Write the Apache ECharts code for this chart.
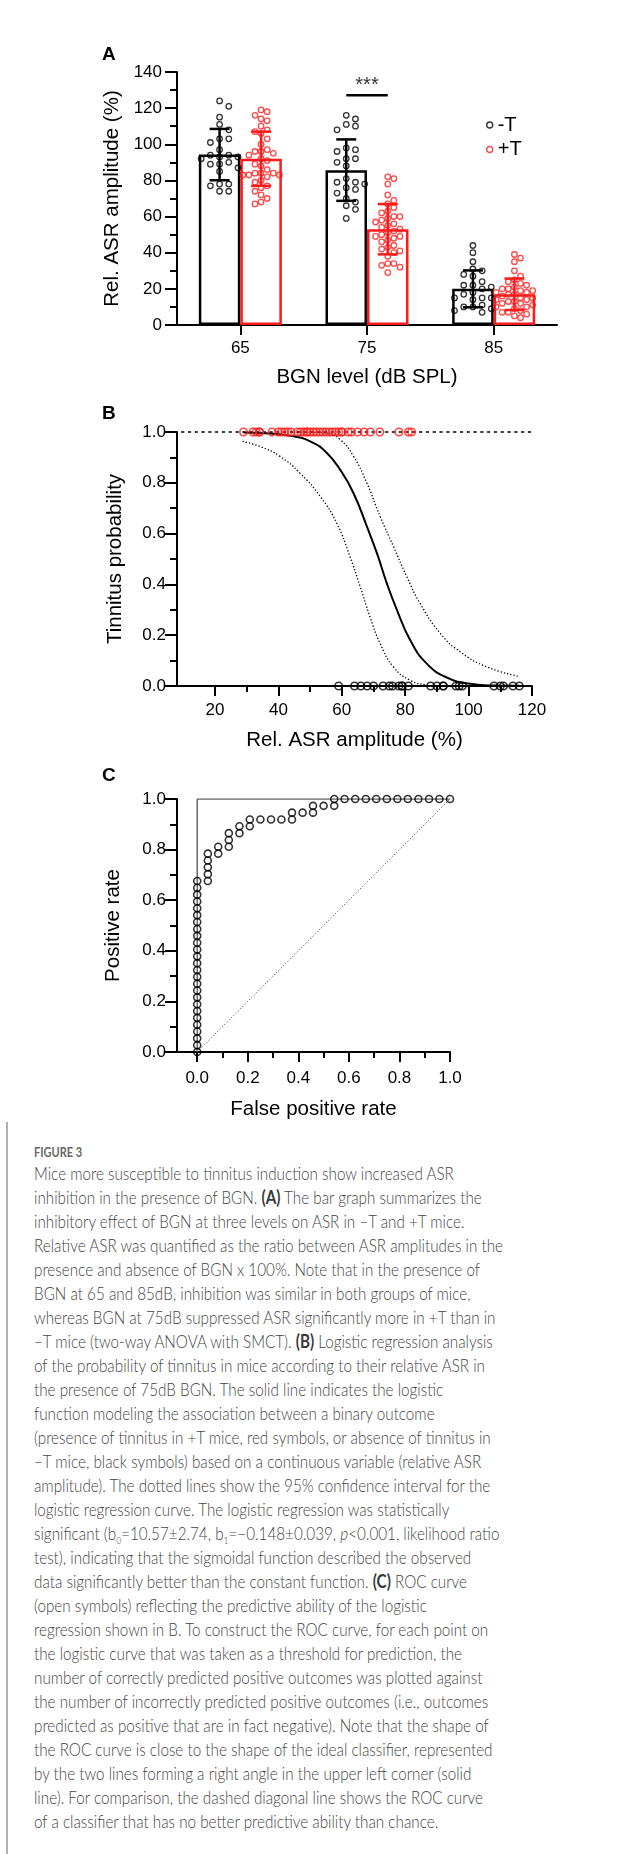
<!DOCTYPE html>
<html>
<head>
<meta charset="utf-8">
<script src="https://cdn.jsdelivr.net/npm/echarts@6/dist/echarts.min.js"></script>
<style>
  html, body { margin: 0; padding: 0; background: #fff; }
  #chart { position: absolute; left: 0; top: 0; width: 640px; height: 1130px; }
  #rule { position: absolute; left: 6px; top: 1122px; width: 1.5px; height: 732px; background: #b0b0b0; }
  #caption { position: absolute; left: 34px; top: 1143px; transform-origin: 0 0;
    font-family: Lato, "Open Sans", sans-serif; font-weight: 300; color: #444; white-space: nowrap; }
  #caption .fig { font-size: 13px; font-weight: 700; color: #666; line-height: 18px; height: 18.3px; }
  #caption .ln { font-size: 18px; line-height: 24px; height: 24px; white-space: nowrap; }
  #caption b { font-weight: 700; color: #3a3a3a; }
  #caption .sb { font-size: 10px; position: relative; top: 4px; line-height: 0; }
</style>
</head>
<body>
<div id="chart"></div>
<div id="rule"></div>
<div id="caption">
  <div class="fig">FIGURE 3</div>
  <div class="ln">Mice more susceptible to tinnitus induction show increased ASR</div>
  <div class="ln">inhibition in the presence of BGN. <b>(A)</b> The bar graph summarizes the</div>
  <div class="ln">inhibitory effect of BGN at three levels on ASR in –T and +T mice.</div>
  <div class="ln" id="refLine">Relative ASR was quantified as the ratio between ASR amplitudes in the</div>
  <div class="ln">presence and absence of BGN x 100%. Note that in the presence of</div>
  <div class="ln">BGN at 65 and 85dB, inhibition was similar in both groups of mice,</div>
  <div class="ln">whereas BGN at 75dB suppressed ASR significantly more in +T than in</div>
  <div class="ln">–T mice (two-way ANOVA with SMCT). <b>(B)</b> Logistic regression analysis</div>
  <div class="ln">of the probability of tinnitus in mice according to their relative ASR in</div>
  <div class="ln">the presence of 75dB BGN. The solid line indicates the logistic</div>
  <div class="ln">function modeling the association between a binary outcome</div>
  <div class="ln">(presence of tinnitus in +T mice, red symbols, or absence of tinnitus in</div>
  <div class="ln">–T mice, black symbols) based on a continuous variable (relative ASR</div>
  <div class="ln">amplitude). The dotted lines show the 95% confidence interval for the</div>
  <div class="ln">logistic regression curve. The logistic regression was statistically</div>
  <div class="ln">significant (b<span class="sb">0</span>=10.57±2.74, b<span class="sb">1</span>=−0.148±0.039, <i>p</i>&lt;0.001, likelihood ratio</div>
  <div class="ln">test), indicating that the sigmoidal function described the observed</div>
  <div class="ln">data significantly better than the constant function. <b>(C)</b> ROC curve</div>
  <div class="ln">(open symbols) reflecting the predictive ability of the logistic</div>
  <div class="ln">regression shown in B. To construct the ROC curve, for each point on</div>
  <div class="ln">the logistic curve that was taken as a threshold for prediction, the</div>
  <div class="ln">number of correctly predicted positive outcomes was plotted against</div>
  <div class="ln">the number of incorrectly predicted positive outcomes (i.e., outcomes</div>
  <div class="ln">predicted as positive that are in fact negative). Note that the shape of</div>
  <div class="ln">the ROC curve is close to the shape of the ideal classifier, represented</div>
  <div class="ln">by the two lines forming a right angle in the upper left corner (solid</div>
  <div class="ln">line). For comparison, the dashed diagonal line shows the ROC curve</div>
  <div class="ln">of a classifier that has no better predictive ability than chance.</div>
</div>
<script>
// ---- data ----
const levels = ['65', '75', '85'];

const meanNoT = [94.3, 85.7, 20];
const meanT = [92, 53, 17];
const sdNoT = [14.2, 17, 10.2];
const sdT = [15, 13.9, 8.7];

const noT65 = [124, 121, 115, 111, 108, 103, 103, 101, 97, 94, 94, 93, 93, 92, 90, 89, 89, 87, 85, 78, 78, 77, 74, 74];
const noT75 = [116, 114, 111, 110, 108, 98, 97, 96, 92, 92, 90, 88, 81, 79, 79, 78, 76, 75, 73, 70, 68, 66, 64, 59];
const noT85 = [44, 40, 35, 31, 30, 28, 27, 24, 22, 22, 21, 20, 18, 17, 15, 15, 15, 14, 11, 10, 10, 9, 8, 7];
const T65 = [119, 118, 116, 114, 113, 110, 108, 107, 106, 103, 100, 97, 96, 96, 95, 94, 92, 91, 89, 88, 86, 84, 84, 84, 83, 83, 83, 82, 80, 79, 77, 76, 74, 72, 70, 68, 67];
const T75 = [29, 32, 33, 34, 34, 38, 40, 41, 42, 43, 44, 46, 47, 48, 49, 49, 50, 51, 52, 53, 54, 55, 56, 57, 58, 59, 60, 60, 62, 63, 65, 67, 69, 72, 78, 81, 82];
const T85 = [39, 37, 35, 30, 27, 25, 24, 23, 22, 21, 20, 20, 19, 19, 18, 18, 17, 17, 16, 15, 15, 14, 14, 13, 13, 12, 12, 11, 10, 10, 9, 8, 7, 7, 6, 5, 4];
const sigLevel = 127.2;

// panel B
const fitX = [29, 34.2, 44.7, 51, 55.3, 59.5, 63.7, 67.9, 71.1, 74.2, 77.4, 81.6, 86.8, 93.2, 100.5, 107.9, 116];
const fitP = [0.998, 0.996, 0.983, 0.957, 0.917, 0.851, 0.759, 0.628, 0.522, 0.404, 0.299, 0.18, 0.088, 0.033, 0.009, 0.002, 0.001];
const ciHiX = [46, 51, 55.3, 59.5, 63.7, 67.9, 72.1, 76.3, 80.5, 84.7, 91.1, 97.4, 105.8, 115.5];
const ciHiP = [1, 0.999, 0.996, 0.97, 0.904, 0.799, 0.667, 0.549, 0.43, 0.325, 0.207, 0.134, 0.075, 0.039];
const ciLoX = [28.7, 34.2, 40.5, 46.8, 53.2, 58.4, 62.6, 65.8, 68.9, 72.1, 76.3, 81.6, 86.8, 89];
const ciLoP = [0.963, 0.943, 0.904, 0.838, 0.746, 0.641, 0.509, 0.391, 0.272, 0.167, 0.075, 0.022, 0.004, 0.001];
const refX = [5, 120];
const xLabelsB = [20, 40, 60, 80, 100, 120];
const xMinorB = [30, 50, 70, 90, 110];

// panel C (ROC)
const rocFpr = [0, 0, 0, 0, 0, 0, 0, 0, 0, 0, 0, 0, 0, 0, 0, 0, 0, 0, 0, 0, 0, 0, 0, 0, 0, 0,
  0.042, 0.042, 0.042, 0.042, 0.042, 0.083, 0.083, 0.125, 0.125, 0.125, 0.167, 0.167, 0.208, 0.208,
  0.25, 0.292, 0.333, 0.375, 0.375, 0.417, 0.458, 0.458, 0.5, 0.542, 0.542,
  0.583, 0.625, 0.667, 0.708, 0.75, 0.792, 0.833, 0.875, 0.917, 0.958, 1];
const rocTpr = [0, 0.027, 0.054, 0.081, 0.108, 0.135, 0.162, 0.189, 0.216, 0.243, 0.27, 0.297, 0.324,
  0.351, 0.378, 0.405, 0.432, 0.459, 0.486, 0.514, 0.541, 0.568, 0.595, 0.622, 0.649, 0.676,
  0.676, 0.703, 0.73, 0.757, 0.784, 0.784, 0.811, 0.811, 0.838, 0.865, 0.865, 0.892, 0.892, 0.919,
  0.919, 0.919, 0.919, 0.919, 0.946, 0.946, 0.946, 0.973, 0.973, 0.973, 1,
  1, 1, 1, 1, 1, 1, 1, 1, 1, 1, 1];
const idealX = [0, 0, 1];
const idealY = [0, 1, 1];
const chanceX = [0, 1];
const chanceY = [0, 1];
const xLabelsC = [0, 0.2, 0.4, 0.6, 0.8, 1];
const xMinorC = [0.1, 0.3, 0.5, 0.7, 0.9];

// ---- layout ----
const FONT = '"Liberation Sans", Arial, sans-serif';
const RED = '#ff1a1a';
const gA = { left: 177, top: 72, width: 380, height: 253 };
const gB = { left: 177, top: 432, width: 355, height: 254 };
const gC = { left: 177, top: 799, width: 273, height: 253 };
const catW = gA.width / levels.length;
const barW = 41.5;
const barOff = (barW / 2) / catW;

// Prism-like spreading of dots inside a bar
function swarm(vals, step, maxCols, minDist) {
  const yPx = gA.height / 140;
  const placed = [];
  return vals.slice().sort((a, b) => b - a).map(v => {
    const y = v * yPx;
    let best = 0, bestD = -1;
    for (let i = 0; i <= 2 * maxCols; i++) {
      const c = i === 0 ? 0 : (i % 2 ? (i + 1) / 2 : -i / 2);
      const x = c * step;
      let d = Infinity;
      placed.forEach(p => { d = Math.min(d, Math.hypot(p[0] - x, p[1] - y)); });
      if (d >= minDist) { best = x; bestD = d; break; }
      if (d > bestD) { bestD = d; best = x; }
    }
    placed.push([best, y]);
    return [best / catW, v];
  });
}

function dots(groups, side, step, cols) {
  const out = [];
  groups.forEach((g, i) => {
    swarm(g, step, cols, 6).forEach(p => out.push([i + side * barOff + p[0], p[1]]));
  });
  return out;
}

function errData(means, sds, side) {
  return means.map((m, i) => [i + side * barOff, m - sds[i], m + sds[i]]);
}

function errBar(color) {
  return function (params, api) {
    const x = api.value(0);
    const lo = api.coord([x, api.value(1)]);
    const hi = api.coord([x, api.value(2)]);
    const hw = 10;
    const style = { stroke: color, lineWidth: 2.5 };
    return {
      type: 'group', children: [
        { type: 'line', shape: { x1: lo[0], y1: lo[1], x2: hi[0], y2: hi[1] }, style: style },
        { type: 'line', shape: { x1: lo[0] - hw, y1: lo[1], x2: lo[0] + hw, y2: lo[1] }, style: style },
        { type: 'line', shape: { x1: hi[0] - hw, y1: hi[1], x2: hi[0] + hw, y2: hi[1] }, style: style }
      ]
    };
  };
}

const axisLine = { show: true, onZero: false, lineStyle: { color: '#000', width: 2 } };
const tickStyle = { color: '#000', width: 2 };
const labelStyle = { color: '#000', fontSize: 17, fontFamily: FONT };
const nameStyle = { color: '#000', fontSize: 20.5, fontFamily: FONT };
const f1 = v => v.toFixed(1);

function yAxisP(grid, max, interval, name, gap, fmt, margin) {
  return {
    type: 'value', gridIndex: grid, min: 0, max: max, interval: interval,
    axisLine: axisLine, splitLine: { show: false },
    axisTick: { show: true, length: 12, lineStyle: tickStyle },
    minorTick: { show: true, splitNumber: 2, length: 7, lineStyle: tickStyle },
    axisLabel: Object.assign({ margin: margin, formatter: fmt }, labelStyle),
    name: name, nameLocation: 'middle', nameGap: gap, nameTextStyle: nameStyle
  };
}

function xValueAxis(grid, min, max, labels, fmt, margin, name, gap) {
  return {
    type: 'value', gridIndex: grid, position: 'bottom', min: min, max: max,
    axisLine: axisLine, splitLine: { show: false },
    axisTick: { show: true, length: 10, lineStyle: tickStyle, customValues: labels },
    axisLabel: Object.assign({ margin: margin, formatter: fmt, customValues: labels }, labelStyle),
    name: name, nameLocation: 'middle', nameGap: gap, nameTextStyle: nameStyle
  };
}

function minorAxis(grid, min, max, ticks) {
  return {
    type: 'value', gridIndex: grid, position: 'bottom', min: min, max: max,
    axisLine: { show: false, onZero: false }, splitLine: { show: false },
    axisTick: { show: true, length: 6, lineStyle: tickStyle, customValues: ticks },
    axisLabel: { show: false }
  };
}

const openDot = (color, w) => ({ color: 'rgba(255,255,255,0)', borderColor: color, borderWidth: w });
const pairs = (xs, ys) => xs.map((x, i) => [x, ys[i]]);
const curve = (name, xs, ys, style) => ({
  name: name, type: 'line', xAxisIndex: 2, yAxisIndex: 1, symbol: 'none', smooth: 0.5,
  data: pairs(xs, ys), lineStyle: style
});

const chart = echarts.init(document.getElementById('chart'), null, { renderer: 'canvas' });

const option = {
  animation: false,
  backgroundColor: '#fff',
  textStyle: { fontFamily: FONT },
  title: [
    { text: 'A', left: 102, top: 45 },
    { text: 'B', left: 102, top: 404 },
    { text: 'C', left: 102, top: 766 }
  ].map(t => Object.assign(t, { padding: 0, textStyle: { fontSize: 19, fontWeight: 'bold', color: '#000', fontFamily: FONT } })),
  legend: {
    orient: 'vertical', left: 481, top: 110, itemGap: 4.5,
    itemWidth: 6, itemHeight: 6, icon: 'circle', selectedMode: false,
    textStyle: { fontSize: 20, color: '#000', fontFamily: FONT, lineHeight: 20 },
    data: [
      { name: '-T', itemStyle: openDot('#000', 1.4) },
      { name: '+T', itemStyle: openDot(RED, 1.4) }
    ]
  },
  grid: [gA, gB, gC],
  xAxis: [
    {
      type: 'category', gridIndex: 0, data: levels,
      axisLine: axisLine,
      axisTick: { show: true, alignWithLabel: true, length: 10, lineStyle: tickStyle },
      axisLabel: Object.assign({ margin: 15 }, labelStyle),
      name: 'BGN level (dB SPL)', nameLocation: 'middle', nameGap: 42, nameTextStyle: nameStyle
    },
    { type: 'value', gridIndex: 0, min: -0.5, max: levels.length - 0.5, show: false },
    xValueAxis(1, 8, 120, xLabelsB, v => v, 16, 'Rel. ASR amplitude (%)', 44),
    minorAxis(1, 8, 120, xMinorB),
    xValueAxis(2, -0.08, 1, xLabelsC, f1, 18, 'False positive rate', 47),
    minorAxis(2, -0.08, 1, xMinorC)
  ],
  yAxis: [
    yAxisP(0, 140, 20, 'Rel. ASR amplitude (%)', 53, v => v, 15),
    yAxisP(1, 1, 0.2, 'Tinnitus probability', 51, f1, 11),
    yAxisP(2, 1, 0.2, 'Positive rate', 53, f1, 11)
  ],
  series: [
    // ---- A ----
    {
      name: '-T bar', type: 'bar', xAxisIndex: 0, yAxisIndex: 0, data: meanNoT,
      barWidth: barW, barGap: '0%',
      itemStyle: { color: '#fff', borderColor: '#000', borderWidth: 2.5 }
    },
    {
      name: '+T bar', type: 'bar', xAxisIndex: 0, yAxisIndex: 0, data: meanT,
      barWidth: barW, barGap: '0%',
      itemStyle: { color: '#fff', borderColor: RED, borderWidth: 2.5 }
    },
    {
      name: '-T', type: 'scatter', xAxisIndex: 1, yAxisIndex: 0, symbol: 'circle', symbolSize: 5.5,
      data: dots([noT65, noT75, noT85], -1, 9.2, 2), itemStyle: openDot('#000', 1.3), z: 3
    },
    {
      name: '+T', type: 'scatter', xAxisIndex: 1, yAxisIndex: 0, symbol: 'circle', symbolSize: 5.5,
      data: dots([T65, T75, T85], 1, 6.1, 3), itemStyle: openDot(RED, 1.3), z: 3
    },
    {
      name: '-T sd', type: 'custom', xAxisIndex: 1, yAxisIndex: 0, z: 4,
      data: errData(meanNoT, sdNoT, -1), renderItem: errBar('#000')
    },
    {
      name: '+T sd', type: 'custom', xAxisIndex: 1, yAxisIndex: 0, z: 4,
      data: errData(meanT, sdT, 1), renderItem: errBar(RED)
    },
    {
      name: 'sig', type: 'line', xAxisIndex: 1, yAxisIndex: 0, symbol: 'none',
      data: [[1 - barOff, sigLevel], [1 + barOff, sigLevel]],
      lineStyle: { color: '#000', width: 2.5 }
    },
    {
      name: 'sig label', type: 'scatter', xAxisIndex: 1, yAxisIndex: 0, symbolSize: 0,
      data: [[1, sigLevel]],
      label: { show: true, position: 'top', distance: 0, formatter: '***', fontSize: 20, color: '#000', fontFamily: FONT }
    },
    // ---- B ----
    {
      name: 'ref', type: 'line', xAxisIndex: 2, yAxisIndex: 1, symbol: 'none', clip: false,
      data: refX.map(x => [x, 1]), lineStyle: { color: '#000', width: 1.6, type: [3.2, 3.6] }
    },
    curve('fit', fitX, fitP, { color: '#000', width: 2 }),
    curve('ciHi', ciHiX, ciHiP, { color: '#000', width: 1.3, type: [1.3, 2] }),
    curve('ciLo', ciLoX, ciLoP, { color: '#000', width: 1.3, type: [1.3, 2] }),
    {
      name: '-T B', type: 'scatter', xAxisIndex: 2, yAxisIndex: 1, symbol: 'circle', symbolSize: 7.5, clip: false,
      data: noT75.map(v => [v, 0]), itemStyle: openDot('#000', 1.6), z: 5
    },
    {
      name: '+T B', type: 'scatter', xAxisIndex: 2, yAxisIndex: 1, symbol: 'circle', symbolSize: 7.5, clip: false,
      data: T75.map(v => [v, 1]), itemStyle: openDot(RED, 1.6), z: 5
    },
    // ---- C ----
    {
      name: 'ideal', type: 'line', xAxisIndex: 4, yAxisIndex: 2, symbol: 'none',
      data: pairs(idealX, idealY), lineStyle: { color: '#6a6a6a', width: 1.5 }
    },
    {
      name: 'chance', type: 'line', xAxisIndex: 4, yAxisIndex: 2, symbol: 'none',
      data: pairs(chanceX, chanceY), lineStyle: { color: '#555', width: 1, type: [1.2, 2] }
    },
    {
      name: 'ROC', type: 'scatter', xAxisIndex: 4, yAxisIndex: 2, symbol: 'circle', symbolSize: 7, clip: false,
      data: pairs(rocFpr, rocTpr), itemStyle: openDot('#000', 1.6), z: 5
    }
  ]
};

chart.setOption(option);

// squeeze the caption so its longest line matches the figure width
const cap = document.getElementById('caption');
const ref = document.getElementById('refLine');
const range = document.createRange();
range.selectNodeContents(ref);
const textW = range.getBoundingClientRect().width || ref.getBoundingClientRect().width;
cap.style.transform = 'scaleX(' + (469 / textW) + ')';
</script>
</body>
</html>
